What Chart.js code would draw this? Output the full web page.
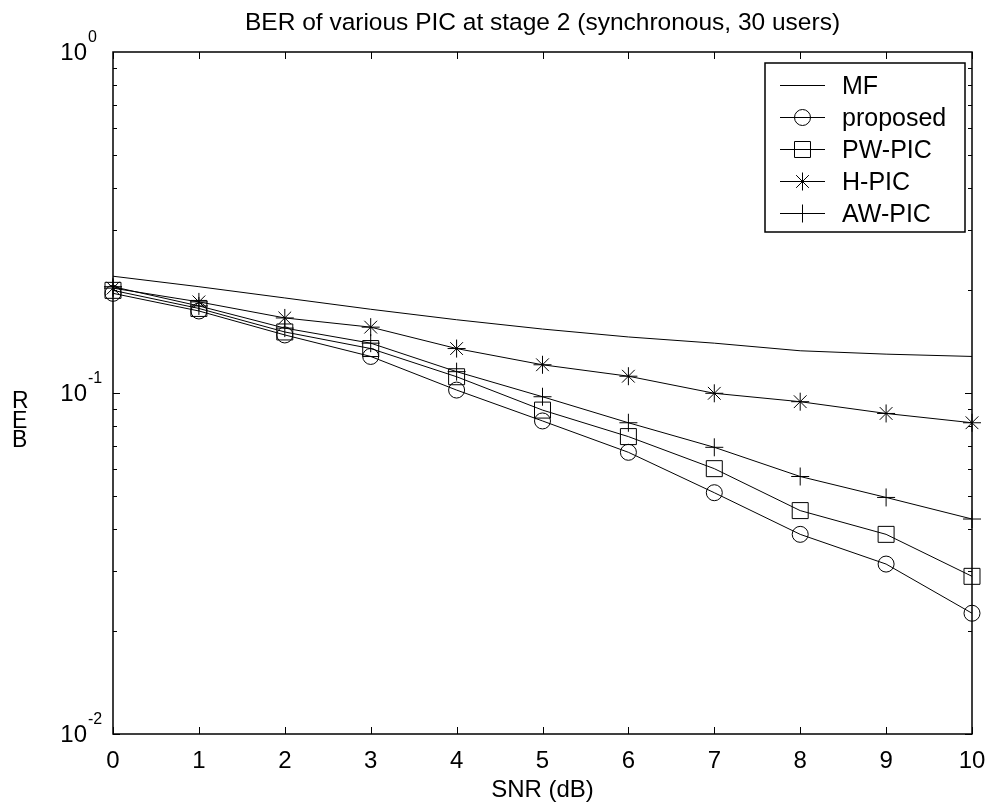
<!DOCTYPE html>
<html>
<head>
<meta charset="utf-8">
<script src="https://cdn.jsdelivr.net/npm/chart.js@4/dist/chart.umd.min.js"></script>
<style>
  html, body { margin: 0; padding: 0; background: #fff; }
  canvas { display: block; }
</style>
</head>
<body>
<canvas id="ber" width="996" height="805"></canvas>
<script>
// values
const snr = [0, 1, 2, 3, 4, 5, 6, 7, 8, 9, 10];
const mf       = [0.220, 0.205, 0.190, 0.176, 0.164, 0.154, 0.146, 0.140, 0.133, 0.130, 0.128];
const proposed = [0.196, 0.174, 0.148, 0.128, 0.102, 0.0828, 0.067, 0.051, 0.0385, 0.0315, 0.0226];
const pwPic    = [0.200, 0.177, 0.151, 0.135, 0.1116, 0.0891, 0.0745, 0.060, 0.0452, 0.0385, 0.029];
const hPic     = [0.203, 0.185, 0.166, 0.156, 0.135, 0.121, 0.112, 0.0998, 0.0943, 0.0871, 0.0818];
const awPic    = [0.205, 0.180, 0.155, 0.140, 0.1155, 0.0975, 0.0818, 0.0693, 0.0569, 0.0494, 0.0427];

const seriesNames = ['MF', 'proposed', 'PW-PIC', 'H-PIC', 'AW-PIC'];
const xTicks = [0, 1, 2, 3, 4, 5, 6, 7, 8, 9, 10];
const yDecades = [0, -1, -2];

const titleText = 'BER of various PIC at stage 2 (synchronous, 30 users)';
const xTitle = 'SNR (dB)';
const FONT = '"Liberation Sans", Arial, sans-serif';

const toPoints = (ys) => ys.map((y, i) => ({ x: snr[i], y }));

const makeSet = (label, ys, style, radius) => ({
  label,
  data: toPoints(ys),
  borderColor: '#000',
  borderWidth: 1,
  pointStyle: style,
  pointRadius: style ? radius : 0,
  pointBorderColor: '#000',
  pointBackgroundColor: 'rgba(0,0,0,0)',
  pointBorderWidth: 1,
  tension: 0,
  clip: false,
});

const datasets = [
  makeSet(seriesNames[0], mf, false, 0),
  makeSet(seriesNames[1], proposed, 'circle', 8),
  makeSet(seriesNames[2], pwPic, 'rect', 11.3),
  makeSet(seriesNames[3], hPic, 'star', 9),
  makeSet(seriesNames[4], awPic, 'cross', 9),
];

function text(ctx, str, x, y, size, align) {
  ctx.font = size + 'px ' + FONT;
  ctx.textAlign = align || 'left';
  ctx.textBaseline = 'alphabetic';
  ctx.fillStyle = '#000';
  ctx.fillText(str, x, y);
}

function drawMarker(ctx, ds, x, y) {
  if (!ds.pointStyle) return;
  ctx.strokeStyle = '#000';
  ctx.fillStyle = 'rgba(0,0,0,0)';
  ctx.lineWidth = 1;
  Chart.helpers.drawPoint(ctx, { pointStyle: ds.pointStyle, radius: ds.pointRadius, rotation: 0, borderWidth: 1 }, x, y);
}

const matlabFrame = {
  id: 'matlabFrame',
  beforeDraw(chart) {
    const ctx = chart.ctx;
    ctx.save();
    ctx.fillStyle = '#fff';
    ctx.fillRect(0, 0, chart.width, chart.height);
    ctx.restore();
  },
  afterDraw(chart) {
    const ctx = chart.ctx;
    const { left, right, top, bottom } = chart.chartArea;
    const xs = chart.scales.x, ys = chart.scales.y;
    ctx.save();

    // axes box
    ctx.strokeStyle = '#000';
    ctx.lineWidth = 1.5;
    ctx.strokeRect(left, top, right - left, bottom - top);

    // x ticks (bottom and top)
    ctx.lineWidth = 1;
    ctx.beginPath();
    xTicks.forEach((t) => {
      const px = Math.round(xs.getPixelForValue(t)) + 0.5;
      ctx.moveTo(px, bottom); ctx.lineTo(px, bottom - 7);
      ctx.moveTo(px, top); ctx.lineTo(px, top + 7);
    });
    // y ticks: decades and minors, left and right
    for (let d = -2; d < 0; d++) {
      for (let m = 1; m < 10; m++) {
        const py = Math.round(ys.getPixelForValue(m * Math.pow(10, d))) + 0.5;
        const len = m === 1 ? 7 : 4;
        ctx.moveTo(left, py); ctx.lineTo(left + len, py);
        ctx.moveTo(right, py); ctx.lineTo(right - len, py);
      }
    }
    ctx.stroke();

    xTicks.forEach((t) => text(ctx, String(t), xs.getPixelForValue(t), bottom + 34, 24, 'center'));

    yDecades.forEach((e) => {
      const py = ys.getPixelForValue(Math.pow(10, e));
      text(ctx, '10', 87, py + 8, 24, 'right');
      text(ctx, String(e), 88, py - 10, 16, 'left');
    });

    // titles
    text(ctx, titleText, (left + right) / 2, 30, 24.5, 'center');
    text(ctx, xTitle, (left + right) / 2, 797, 24, 'center');
    // y label, letters stacked as in the reference
    text(ctx, 'R', 12, 408, 23, 'left');
    text(ctx, 'E', 12, 428, 23, 'left');
    text(ctx, 'B', 12, 447, 23, 'left');

    // legend
    const lx = 765, ly = 63, lw = 200, lh = 169;
    ctx.fillStyle = '#fff';
    ctx.fillRect(lx, ly, lw, lh);
    ctx.strokeStyle = '#000';
    ctx.lineWidth = 1.5;
    ctx.strokeRect(lx, ly, lw, lh);
    chart.data.datasets.forEach((ds, i) => {
      const ry = 85 + i * 32;
      ctx.strokeStyle = '#000';
      ctx.lineWidth = 1;
      ctx.beginPath();
      ctx.moveTo(780, ry + 0.5); ctx.lineTo(825, ry + 0.5);
      ctx.stroke();
      drawMarker(ctx, ds, 802.5, ry + 0.5);
      text(ctx, ds.label, 842, ry + 9, 25, 'left');
    });

    ctx.restore();
  },
};

new Chart(document.getElementById('ber'), {
  type: 'line',
  data: { datasets },
  options: {
    responsive: false,
    animation: false,
    devicePixelRatio: 1,
    layout: { padding: { left: 113, right: 24, top: 52, bottom: 71 } },
    plugins: { legend: { display: false }, tooltip: { enabled: false }, title: { display: false } },
    scales: {
      x: { type: 'linear', min: 0, max: 10, display: false },
      y: { type: 'logarithmic', min: 0.01, max: 1, display: false },
    },
  },
  plugins: [matlabFrame],
});
</script>
</body>
</html>
